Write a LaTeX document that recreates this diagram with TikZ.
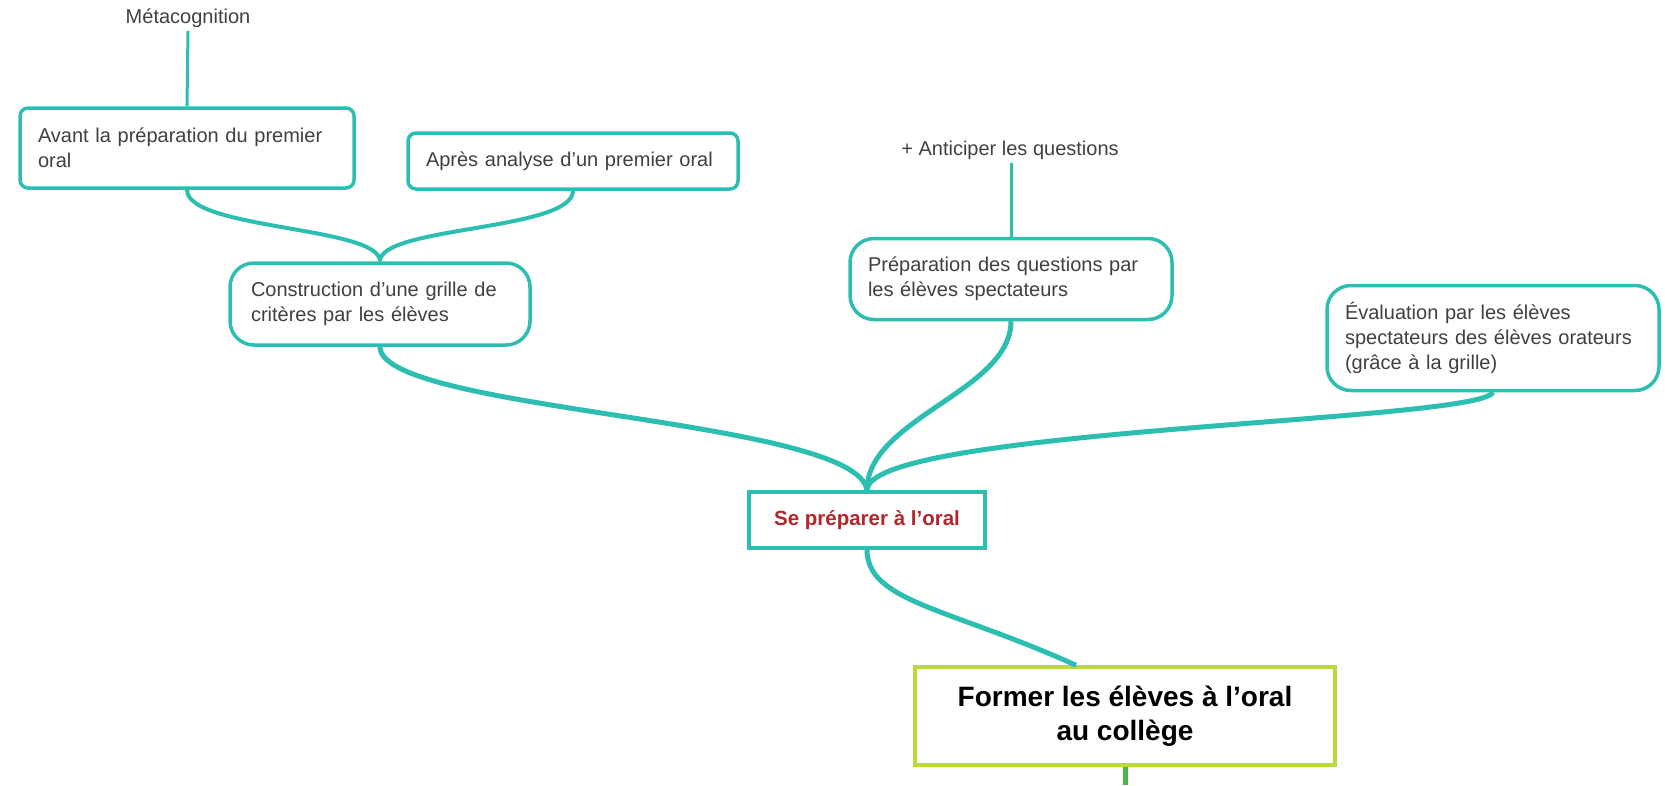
\documentclass[tikz,border=0pt]{standalone}
\usepackage{fontspec}
\setmainfont{Liberation Sans}
\usetikzlibrary{calc,positioning}
\definecolor{mapteal}{RGB}{44,190,176}
\definecolor{maplime}{RGB}{186,218,60}
\definecolor{mapgreen}{RGB}{76,180,72}
\definecolor{mapred}{RGB}{178,38,44}
\definecolor{txtgray}{RGB}{64,64,64}
\tikzset{
  note/.style={
    text=txtgray,
    font=\fontsize{20}{25}\selectfont},
  box/.style={
    rectangle,
    rounded corners=8pt,
    draw=mapteal, line width=3.5pt,
    fill=white,
    text=txtgray,
    font=\fontsize{20}{25}\selectfont,
    align=left,
    inner xsep=18pt, inner ysep=0pt},
  roundbox/.style={box, rounded corners=24pt},
  topic/.style={
    rectangle,
    draw=mapteal, line width=3.5pt,
    text=mapred,
    font=\fontsize{20.5}{25}\selectfont\bfseries,
    minimum width=236pt, minimum height=56pt},
  central/.style={
    rectangle,
    draw=maplime, line width=3.5pt,
    text=black,
    font=\fontsize{28}{34}\selectfont\bfseries,
    align=center,
    minimum width=420pt, minimum height=98pt},
  twig/.style={draw=mapteal, line width=3pt},
  branch/.style={draw=mapteal, line width=4pt},
  trunk/.style={draw=mapteal, line width=5pt},
  stem/.style={draw=mapgreen, line width=5pt},
}

\begin{document}
\begin{tikzpicture}[x=1pt, y=-1pt]
  \useasboundingbox (0,0) rectangle (1665,785);

  % leaves
  \node[note] (meta) at (188,18) {Métacognition};
  \node[box, text width=298pt, minimum height=80pt] (avant) at (187,148)
    {Avant la préparation du premier\\oral};
  \node[box, text width=294pt, minimum height=56pt] (apres) at (573,161)
    {Après analyse d’un premier oral};
  \node[roundbox, text width=258pt, minimum height=82pt, inner xsep=21pt] (grille) at (380,304)
    {Construction d’une grille de\\critères par les élèves};
  \node[note] (anticiper) at (1010,150) {+ Anticiper les questions};
  \node[roundbox, text width=286pt, minimum height=81pt] (questions) at (1011,279)
    {Préparation des questions par\\les élèves spectateurs};
  \node[roundbox, text width=296pt, minimum height=105pt] (evaluation) at (1493,338)
    {Évaluation par les élèves\\spectateurs des élèves orateurs\\(grâce à la grille)};

  % main topics
  \node[topic] (oral) at (867,520) {Se préparer à l’oral};
  \node[central] (former) at (1125,716) {Former les élèves à l’oral\\au collège};
  \coordinate (bottom) at (1125,785);

  % connectors
  \draw[twig] (meta.south) -- (avant.north);
  \draw[twig] (questions.north) -- (questions.north |- anticiper.south);
  \draw[branch] (avant.south) .. controls +(0,40) and +(0,-35) .. (grille.north);
  \draw[branch] (apres.south) .. controls +(0,40) and +(0,-35) .. (grille.north);
  \draw[trunk] (grille.south) .. controls +(0,65) and +(-10,-72) .. (oral.north);
  \draw[trunk] (questions.south) .. controls +(0,70) and +(0,-72) .. (oral.north);
  \draw[trunk] (evaluation.south) .. controls +(-15,30) and +(0,-62) .. (oral.north);
  \draw[trunk] (oral.south) .. controls +(0,52) and +(-126,-57) .. ([xshift=-49pt]former.north);
  \draw[stem] (former.south) -- (bottom);
\end{tikzpicture}
\end{document}
